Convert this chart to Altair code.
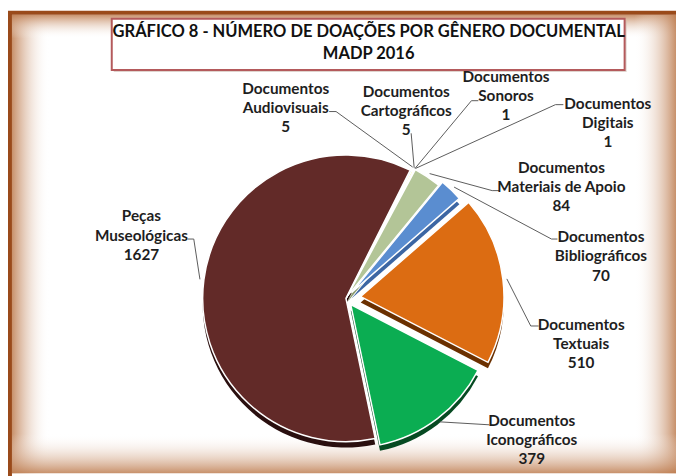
import altair as alt
import pandas as pd
import numpy as np

# ---------------- data ----------------
categories = [
    "Documentos Audiovisuais", "Documentos Cartográficos", "Documentos Sonoros",
    "Documentos Digitais", "Documentos Materiais de Apoio", "Documentos Bibliográficos",
    "Documentos Textuais", "Documentos Iconográficos", "Peças Museológicas",
]
values = [5, 5, 1, 1, 84, 70, 510, 379, 1627]
title_lines = ["GRÁFICO 8 - NÚMERO DE DOAÇÕES POR GÊNERO DOCUMENTAL", "MADP 2016"]

# ---------------- styles / layout ----------------
top_colors = ["#4BACC6", "#F5F03A", "#E3A3A0", "#9C8CC2", "#B3C597", "#5A8DD0",
              "#DC6C12", "#0BAD52", "#622A28"]
side_colors = ["#2F7F95", "#B8B000", "#A87270", "#6E5F96", "#8A9B70", "#3C66A3",
               "#6B3000", "#064A22", "#2A0F0F"]
explode = [0, 0, 0, 0, 3, 8, 15, 8, 0]

OFF = 8                      # page margin
W, H = 676, 468
CX, CY, R = 350 - OFF, 299 - OFF, 145
START = np.deg2rad(26.6)
DEPTH = 6
FONT = "Lato"

# label centres (image coords, first line) and label-side leader points
label_pos = {
    "Documentos Audiovisuais": (289, 87),
    "Documentos Cartográficos": (411, 90),
    "Documentos Sonoros": (512, 75),
    "Documentos Digitais": (615, 102),
    "Documentos Materiais de Apoio": (568, 167),
    "Documentos Bibliográficos": (608, 237),
    "Documentos Textuais": (588, 326),
    "Documentos Iconográficos": (538, 423),
    "Peças Museológicas": (143, 216),
}
leader_pts = {
    "Documentos Audiovisuais": [(333, 110), (340, 110)],
    "Documentos Cartográficos": [(416, 132)],
    "Documentos Sonoros": [(484, 99), (477, 99)],
    "Documentos Digitais": [(570, 103), (562, 103)],
    "Documentos Materiais de Apoio": [(505, 190), (498, 190)],
    "Documentos Bibliográficos": [(564, 239), (558, 239)],
    "Documentos Textuais": [(545, 327), (537, 327)],
    "Documentos Iconográficos": [(495, 427)],
    "Peças Museológicas": [(190, 239), (196, 239)],
}

# ---------------- pie (computed by Vega-Lite transforms) ----------------
pie_df = pd.DataFrame({"cat": categories, "value": values,
                       "order": list(range(len(values))), "explode": explode,
                       "ctop": top_colors, "cside": side_colors})

pie_base = (
    alt.Chart(pie_df)
    .transform_window(cum="sum(value)", sort=[alt.SortField("order")], frame=[None, 0])
    .transform_joinaggregate(total="sum(value)")
    .transform_calculate(th1=f"{START} + 2*PI*datum.cum/datum.total")
    .transform_calculate(th0=f"{START} + 2*PI*(datum.cum - datum.value)/datum.total")
    .transform_calculate(mid="(datum.th0 + datum.th1)/2")
    .transform_calculate(cx=f"{CX} + datum.explode*sin(datum.mid)")
    .transform_calculate(cy=f"{CY} - datum.explode*cos(datum.mid)")
    .transform_calculate(cyd=f"datum.cy + {DEPTH}")
)

side = pie_base.mark_arc(outerRadius=R).encode(
    theta=alt.Theta("th0:Q", scale=None), theta2="th1:Q",
    x=alt.X("cx:Q", scale=None, axis=None), y=alt.Y("cyd:Q", scale=None, axis=None),
    color=alt.Color("cside:N", scale=None, legend=None),
)
top = pie_base.mark_arc(outerRadius=R, stroke="white", strokeWidth=1.5).encode(
    theta=alt.Theta("th0:Q", scale=None), theta2="th1:Q",
    x=alt.X("cx:Q", scale=None, axis=None), y=alt.Y("cy:Q", scale=None, axis=None),
    color=alt.Color("ctop:N", scale=None, legend=None),
)

# ---------------- leader lines ----------------
vals = np.array(values, dtype=float)
cum = np.cumsum(vals)
th1 = START + 2 * np.pi * cum / vals.sum()
th0 = th1 - 2 * np.pi * vals / vals.sum()
mid = (th0 + th1) / 2
rows = []
for i, c in enumerate(categories):
    cx = CX + explode[i] * np.sin(mid[i])
    cy = CY - explode[i] * np.cos(mid[i])
    sx = cx + (R + 4) * np.sin(mid[i])
    sy = cy - (R + 4) * np.cos(mid[i])
    rows.append({"cat": c, "seq": 0, "x": sx, "y": sy})
    for k, (px, py) in enumerate(reversed(leader_pts[c])):
        rows.append({"cat": c, "seq": k + 1, "x": px - OFF, "y": py - OFF})
lead_df = pd.DataFrame(rows)
leaders = alt.Chart(lead_df).mark_line(color="#5A5A5A", strokeWidth=1).encode(
    x=alt.X("x:Q", scale=None, axis=None), y=alt.Y("y:Q", scale=None, axis=None),
    detail="cat:N", order="seq:Q",
)

# ---------------- labels ----------------
lab_rows = []
for c, v in zip(categories, values):
    first, rest = c.split(" ", 1)
    lx, ly = label_pos[c]
    lab_rows.append({"label": f"{first}\n{rest}\n{v}", "x": lx - OFF, "y": ly - OFF})
lab_df = pd.DataFrame(lab_rows)
labels = alt.Chart(lab_df).mark_text(
    font=FONT, fontSize=15.5, fontWeight="bold", color="#1E1E1E",
    lineBreak="\n", lineHeight=19.5, align="center", baseline="middle",
).encode(x=alt.X("x:Q", scale=None, axis=None), y=alt.Y("y:Q", scale=None, axis=None),
         text="label:N")

# ---------------- frame & title box ----------------
one = alt.Data(values=[{}])
tan = "rgba(190,125,80,0.85)"
clear = "rgba(255,255,255,0)"

def glow(x, x2, y, y2, gx1, gy1, gx2, gy2):
    return alt.Chart(one).mark_rect(
        fill=alt.Gradient(gradient="linear", x1=gx1, y1=gy1, x2=gx2, y2=gy2,
                          stops=[alt.GradientStop(color=tan, offset=0),
                                 alt.GradientStop(color=clear, offset=1)])
    ).encode(x=alt.value(x), x2=alt.value(x2), y=alt.value(y), y2=alt.value(y2))

frame_fill = alt.Chart(one).mark_rect(fill="white").encode(
    x=alt.value(2), x2=alt.value(W), y=alt.value(2), y2=alt.value(H))
g_left = glow(4, 42, 4, H, 0, 0, 1, 0)
g_top = glow(4, W, 4, 28, 0, 0, 0, 1)
g_right = glow(634, W, 4, H, 1, 0, 0, 0)
g_bottom = glow(4, W, 428, H, 0, 1, 0, 0)
frame_stroke = alt.Chart(one).mark_rect(fill=None, stroke="#9A4A1A", strokeWidth=4).encode(
    x=alt.value(2), x2=alt.value(720), y=alt.value(2), y2=alt.value(520))

tb_shadow = alt.Chart(one).mark_rect(fill="#C9B8AE", opacity=0.6).encode(
    x=alt.value(113 - OFF + 2), x2=alt.value(632 - OFF + 2),
    y=alt.value(16 - OFF + 2), y2=alt.value(68 - OFF + 2))
tb = alt.Chart(one).mark_rect(fill="white", stroke="#B45A5C", strokeWidth=2).encode(
    x=alt.value(113 - OFF), x2=alt.value(632 - OFF),
    y=alt.value(16 - OFF), y2=alt.value(68 - OFF))

title_df = pd.DataFrame({"t": title_lines, "y": [30 - OFF, 52 - OFF]})
title = alt.Chart(title_df).mark_text(
    font=FONT, fontSize=16.7, fontWeight="bold", color="#111111",
    align="center", baseline="middle",
).encode(x=alt.value(373 - OFF), y=alt.Y("y:Q", scale=None, axis=None), text="t:N")

chart = alt.layer(
    frame_fill, g_left, g_top, g_right, g_bottom, frame_stroke,
    tb_shadow, tb, title,
    side, top, leaders, labels,
).properties(
    width=W, height=H, padding=0, autosize=alt.AutoSizeParams(type="none"),
).configure_view(stroke=None)

chart.save("out.html", embed_options={"renderer": "svg", "actions": False})
